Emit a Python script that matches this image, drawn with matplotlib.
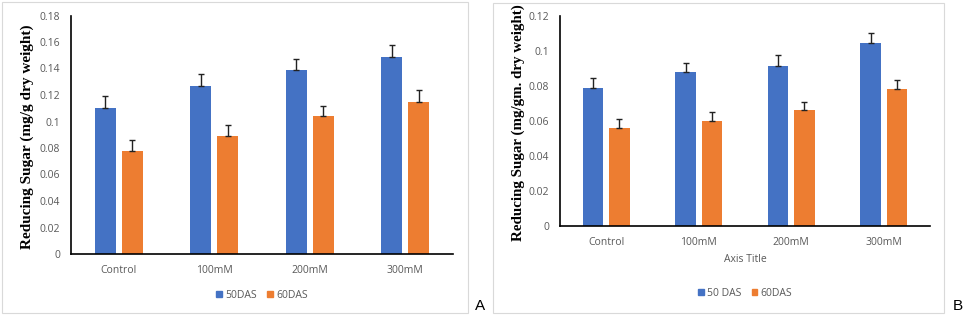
import matplotlib
matplotlib.use("Agg")
import matplotlib.pyplot as plt
from matplotlib.patches import Rectangle, Patch
import numpy as np

categories = ["Control", "100mM", "200mM", "300mM"]

a_50das = [0.110, 0.127, 0.139, 0.149]
a_60das = [0.078, 0.089, 0.104, 0.115]
a_50err = [0.009, 0.009, 0.0085, 0.009]
a_60err = [0.008, 0.008, 0.008, 0.009]
a_yticks = [0, 0.02, 0.04, 0.06, 0.08, 0.1, 0.12, 0.14, 0.16, 0.18]
a_yticklabels = ["0", "0.02", "0.04", "0.06", "0.08", "0.1", "0.12", "0.14", "0.16", "0.18"]

b_50das = [0.079, 0.088, 0.0915, 0.1045]
b_60das = [0.056, 0.060, 0.066, 0.078]
b_50err = [0.0055, 0.0053, 0.006, 0.0055]
b_60err = [0.005, 0.005, 0.005, 0.0053]
b_yticks = [0, 0.02, 0.04, 0.06, 0.08, 0.1, 0.12]
b_yticklabels = ["0", "0.02", "0.04", "0.06", "0.08", "0.1", "0.12"]

BLUE = "#4472C4"
ORANGE = "#ED7D31"
GRAY = "#595959"
W, H = 964, 315

fig = plt.figure(figsize=(W / 100, H / 100), dpi=100)
fig.patch.set_facecolor("white")

tick_font = "Open Sans"
label_font = "Liberation Serif"


def frac(l, t, r, b):
    return [l / W, (H - b) / H, (r - l) / W, (b - t) / H]


def panel(rect, v50, v60, e50, e60, yticks, yticklabels, ylabel, ylabel_x, ylabel_size, leg_y, leg_labels, xlabel=None):
    ax = fig.add_axes(rect)
    x = np.arange(len(categories))
    off, w = 0.143, 0.22
    ax.bar(x - off, v50, w, color=BLUE, zorder=2)
    ax.bar(x + off, v60, w, color=ORANGE, zorder=2)
    ekw = dict(fmt="none", ecolor="#222222", elinewidth=1.0, capsize=2.2, capthick=1.0, zorder=3)
    ax.errorbar(x - off, v50, yerr=[np.zeros(len(x)), e50], **ekw)
    ax.errorbar(x + off, v60, yerr=[np.zeros(len(x)), e60], **ekw)
    ax.set_xlim(-0.5, len(categories) - 0.5)
    ax.set_ylim(yticks[0], yticks[-1])
    ax.set_yticks(yticks)
    ax.set_yticklabels(yticklabels)
    ax.set_xticks(x)
    ax.set_xticklabels(categories)
    for lab in ax.get_xticklabels() + ax.get_yticklabels():
        lab.set_fontfamily(tick_font)
        lab.set_fontsize(7.5)
        lab.set_color(GRAY)
    ax.tick_params(axis="both", length=0)
    ax.tick_params(axis="y", pad=8)
    ax.tick_params(axis="x", pad=8)
    for s in ["top", "right"]:
        ax.spines[s].set_visible(False)
    for s in ["left", "bottom"]:
        ax.spines[s].set_color("black")
        ax.spines[s].set_linewidth(1.2)
    ax.set_facecolor("none")
    fig.text(ylabel_x, ax.get_position().y0 + ax.get_position().height / 2 - 0.005, ylabel,
             rotation=90, ha="center", va="center", fontfamily=label_font,
             fontweight="bold", fontsize=ylabel_size, color="black")
    if xlabel:
        ax.set_xlabel(xlabel, fontfamily=tick_font, fontsize=7.5, color=GRAY, labelpad=4)
    handles = [Patch(color=BLUE), Patch(color=ORANGE)]
    cx = ax.get_position().x0 + ax.get_position().width / 2
    leg = fig.legend(handles, leg_labels, loc="center", bbox_to_anchor=(cx, leg_y), ncol=2,
                     frameon=False, handlelength=0.55, handleheight=0.55, handletextpad=0.3,
                     columnspacing=1.0, prop={"family": tick_font, "size": 7.5})
    for t in leg.get_texts():
        t.set_color(GRAY)
    return ax


# frames
fig.add_artist(Rectangle((2 / W, (H - 313) / H), (468 - 2) / W, (313 - 2) / H,
                         transform=fig.transFigure, fill=False, edgecolor="#D9D9D9", lw=0.8))
fig.add_artist(Rectangle((493 / W, (H - 313) / H), (944 - 493) / W, (313 - 3) / H,
                         transform=fig.transFigure, fill=False, edgecolor="#D9D9D9", lw=0.8))

panel(frac(71, 15.5, 453, 254), a_50das, a_60das, a_50err, a_60err, a_yticks, a_yticklabels,
      "Reducing Sugar (mg/g dry weight)", 27 / W, 11, (H - 295) / H, ["50DAS", "60DAS"])
panel(frac(560, 16, 930, 226), b_50das, b_60das, b_50err, b_60err, b_yticks, b_yticklabels,
      "Reducing Sugar (mg/gm. dry weight)", 518 / W, 10.8, (H - 293) / H, ["50 DAS", "60DAS"],
      xlabel="Axis Title")

fig.text(480 / W, (H - 306) / H, "A", ha="center", va="center", fontfamily="Liberation Sans", fontsize=11)
fig.text(958 / W, (H - 306) / H, "B", ha="center", va="center", fontfamily="Liberation Sans", fontsize=11)

fig.savefig("out.png", dpi=100, facecolor="white")
